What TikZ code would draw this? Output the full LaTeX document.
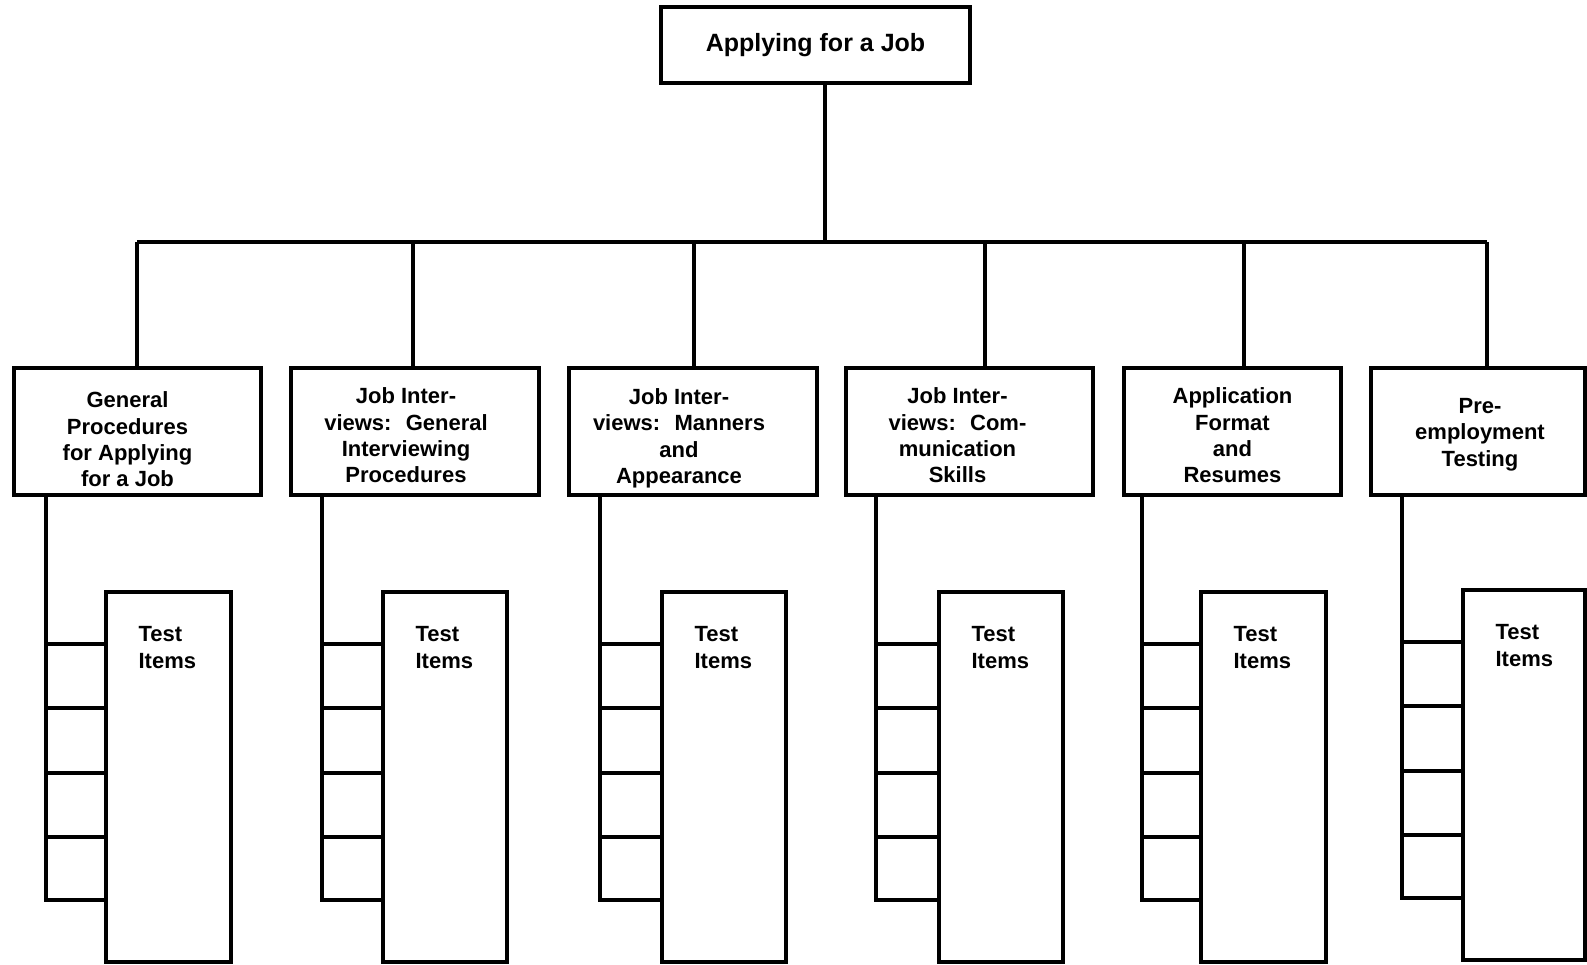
\documentclass[tikz,border=0pt]{standalone}
\usepackage{fontspec}
\setmainfont{Liberation Sans}
\begin{document}
\begin{tikzpicture}[x=0.5pt,y=-0.5pt, line width=1.6pt,
  catbox/.style={draw, inner sep=0pt, outer sep=0pt},
  cattext/.style={inner sep=0pt, align=center, font=\bfseries\fontsize{11}{13.2}\selectfont},
  testbox/.style={draw, inner sep=0pt, outer sep=0pt},
  smallbox/.style={draw, inner sep=0pt, outer sep=0pt},
  testlabel/.style={anchor=north west, inner sep=0pt, align=left, font=\bfseries\fontsize{11}{13.2}\selectfont}]
\useasboundingbox (0,0) rectangle (1587,965);
\node[draw, inner sep=0pt, outer sep=0pt, font=\bfseries\fontsize{12.5}{15}\selectfont, minimum width=154.5pt, minimum height=38pt] (top) at (815.5,45) {Applying for a Job};
\coordinate (bus) at (825,242);
\draw (top.south -| bus) -- (bus);
\foreach \i/\L/\R/\D/\V/\T/\TR/\dy/\ox/\oy/\txt in {
1/14/261/137/46/106/231/0/-10/8/{General\\Procedures\\for Applying\\for a Job},
2/291/539/413/322/383/507/0/-9/4/{Job Inter-\\views:~ General\\Interviewing\\Procedures},
3/569/817/694/600/662/786/0/-14/7/{Job Inter-\\views:~ Manners\\and\\Appearance},
4/846/1093/985/876/939/1063/0/-12/4/{Job Inter-\\views:~ Com-\\munication\\Skills},
5/1124/1341/1244/1142/1201/1326/0/0/4/{Application\\Format\\and\\Resumes},
6/1371/1585/1487/1402/1463/1585/-2/2/3/{Pre-\\employment\\Testing}}
{
  \pgfmathsetmacro\cw{(\R-\L)*0.5}
  \pgfmathsetmacro\cx{(\L+\R)/2}
  \node[catbox, minimum width=\cw pt, minimum height=63.5pt] (c\i) at (\cx,431.5) {};
  \node[cattext] (ct\i) at ({\cx+\ox},{431.5+\oy}) {\txt};
  \coordinate (d\i) at (\D,242);
  \draw (d\i) -- (d\i |- c\i.north);
  \pgfmathsetmacro\tw{(\TR-\T)*0.5}
  \pgfmathsetmacro\tx{(\T+\TR)/2}
  \node[testbox, minimum width=\tw pt, minimum height=185pt] (t\i) at (\tx,{777+\dy}) {};
  \node[testlabel] (l\i) at ({\T+31},{625+\dy}) {Test\\Items};
  \pgfmathsetmacro\sw{(\T-\V)*0.5}
  \pgfmathsetmacro\sx{(\T+\V)/2}
  \foreach \j/\y in {a/676,b/740.5,c/805,d/868.5}{
    \node[smallbox, minimum width=\sw pt, minimum height=32pt] (s\i\j) at (\sx,{\y+\dy}) {};
  }
  \coordinate (b\i) at (\V,{900+\dy});
  \draw (c\i.south -| b\i) -- (b\i) -- (b\i -| t\i.west);
}
\draw (d1) -- (d6);
\end{tikzpicture}
\end{document}
